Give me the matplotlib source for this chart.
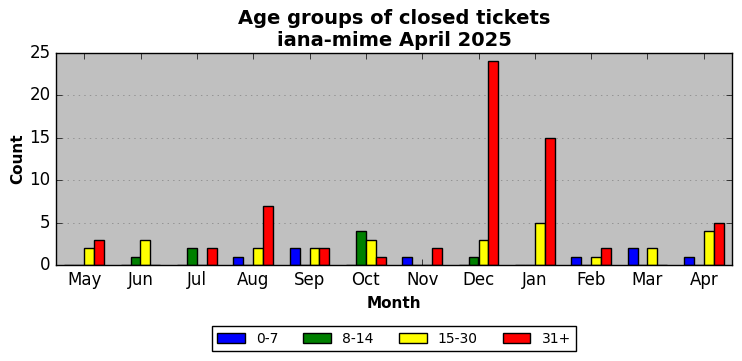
import matplotlib
matplotlib.use("Agg")
import matplotlib.pyplot as plt
import numpy as np

plt.style.use("classic")

months = ["May", "Jun", "Jul", "Aug", "Sep", "Oct", "Nov", "Dec", "Jan", "Feb", "Mar", "Apr"]
age_0_7 = [0, 0, 0, 1, 2, 0, 1, 0, 0, 1, 2, 1]
age_8_14 = [0, 1, 2, 0, 0, 4, 0, 1, 0, 0, 0, 0]
age_15_30 = [2, 3, 0, 2, 2, 3, 0, 3, 5, 1, 2, 4]
age_31_plus = [3, 0, 2, 7, 2, 1, 2, 24, 15, 2, 0, 5]

series = [("0-7", age_0_7, "blue"), ("8-14", age_8_14, "green"),
          ("15-30", age_15_30, "yellow"), ("31+", age_31_plus, "red")]

fig = plt.figure(figsize=(7.42, 3.61), dpi=100, facecolor="white")
ax = fig.add_axes([56 / 742, 1 - 265 / 361, 676 / 742, 212 / 361])
ax.set_facecolor("silver")

x = np.arange(len(months))
w = 0.175
for i, (name, vals, col) in enumerate(series):
    ax.bar(x + (i - 1.5) * w, vals, w, color=col, edgecolor="black", linewidth=1, label=name, align="center")

ax.set_xlim(-0.5, len(months) - 0.5)
ax.set_ylim(0, 25)
ax.set_xticks(x)
ax.set_xticklabels(months)
ax.set_yticks(range(0, 26, 5))
ax.yaxis.grid(True, linestyle=":", color="gray")
ax.set_axisbelow(True)
ax.set_xlabel("Month", fontweight="bold", fontsize=11)
ax.set_ylabel("Count", fontweight="bold", fontsize=11, labelpad=3)
ax.set_title("Age groups of closed tickets\niana-mime April 2025", fontweight="bold", fontsize=14)
ax.legend(loc="upper center", bbox_to_anchor=(0.5, -0.255), ncol=4, fontsize=10, columnspacing=1.8)

fig.savefig("out.png", dpi=100, facecolor="white")
